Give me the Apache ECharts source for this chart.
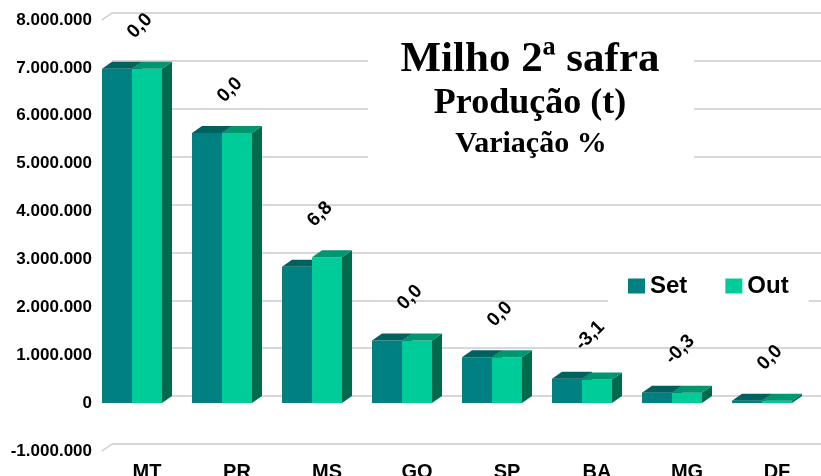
<!DOCTYPE html>
<html>
<head>
<meta charset="utf-8">
<script src="https://cdn.jsdelivr.net/npm/echarts@6/dist/echarts.min.js"></script>
<style>
html,body{margin:0;padding:0;background:#fff;}
#chart{width:821px;height:476px;}
</style>
</head>
<body>
<div id="chart"></div>
<script>
// ---- data ----
const categories = ['MT', 'PR', 'MS', 'GO', 'SP', 'BA', 'MG', 'DF'];
const setValues = [6980000, 5640000, 2850000, 1310000, 960000, 510000, 218000, 50000];
const outValues = [6980000, 5640000, 3045000, 1310000, 960000, 494000, 217000, 50000];
const variation = [0.0, 0.0, 6.8, 0.0, 0.0, -3.1, -0.3, 0.0];
const yMin = -1000000;
const yMax = 8000000;
const yStep = 1000000;
const seriesNames = ['Set', 'Out'];
const titleLines = ['Milho 2ª safra', 'Produção (t)', 'Variação %'];

// ---- style constants ----
const DX = 10, DY = -7;
const colors = {
  Set: { front: '#008080', top: '#00625F', side: '#005454' },
  Out: { front: '#00CC99', top: '#009670', side: '#006A4C' }
};
const FONT = '"Liberation Sans", Arial, sans-serif';
const SERIF = '"Liberation Serif", "Times New Roman", serif';

function fmt(v) {
  const neg = v < 0;
  let s = String(Math.abs(Math.round(v)));
  s = s.replace(/\B(?=(\d{3})+(?!\d))/g, '.');
  return (neg ? '-' : '') + s;
}

function barRenderer(idx, name) {
  return function (params, api) {
    const i = api.value(0), v = api.value(1);
    const c = api.coord([i, v]);
    const base = api.coord([i, 0]);
    const bw = api.size([1, 0])[0];
    const w = bw / 3;
    const x0 = c[0] - bw / 2 + idx * w, x1 = x0 + w;
    const yt = c[1], yb = base[1];
    const col = colors[name];
    return {
      type: 'group',
      children: [
        { type: 'polygon', shape: { points: [[x1, yt], [x1 + DX, yt + DY], [x1 + DX, yb + DY], [x1, yb]] }, style: { fill: col.side } },
        { type: 'rect', shape: { x: x0, y: yt, width: w, height: yb - yt }, style: { fill: col.front } },
        { type: 'polygon', shape: { points: [[x0, yt], [x1, yt], [x1 + DX, yt + DY], [x0 + DX, yt + DY]] }, style: { fill: col.top } }
      ]
    };
  };
}

const labelData = categories.map((c, i) => [i, Math.max(setValues[i], outValues[i]), variation[i]]);
const edgeData = [[0, yMax], [0, yMin]];

const option = {
  animation: false,
  backgroundColor: '#fff',
  graphic: [
    { type: 'rect', z: 10, shape: { x: 368, y: 26, width: 326, height: 146 }, style: { fill: '#fff' } },
    { type: 'text', z: 11, x: 530, y: 60, style: { text: titleLines[0], font: 'bold 43px ' + SERIF, fill: '#000', align: 'center', verticalAlign: 'middle' } },
    { type: 'text', z: 11, x: 530, y: 104, style: { text: titleLines[1], font: 'bold 36px ' + SERIF, fill: '#000', align: 'center', verticalAlign: 'middle' } },
    { type: 'text', z: 11, x: 531, y: 144, style: { text: titleLines[2], font: 'bold 30px ' + SERIF, fill: '#000', align: 'center', verticalAlign: 'middle' } }
  ],
  legend: {
    data: seriesNames,
    left: 608, top: 264,
    padding: [10, 20, 10, 20],
    backgroundColor: '#fff',
    itemWidth: 17, itemHeight: 15, itemGap: 38,
    icon: 'rect',
    textStyle: { fontFamily: FONT, fontWeight: 'bold', fontSize: 24, color: '#000', lineHeight: 24 }
  },
  grid: [
    { left: 102, right: -1, top: 20, bottom: 25, containLabel: false, outerBoundsMode: 'none' },
    { left: 102 + DX, right: -1 - DX - 20, top: 20 + DY, bottom: 25 - DY, containLabel: false, outerBoundsMode: 'none' }
  ],
  xAxis: [
    {
      type: 'category', gridIndex: 0, data: categories,
      axisLine: { show: false }, axisTick: { show: false },
      axisLabel: { fontFamily: FONT, fontWeight: 'bold', fontSize: 20, color: '#000', margin: 11 }
    },
    { type: 'value', gridIndex: 1, min: 0, max: 1, show: false }
  ],
  yAxis: [
    {
      type: 'value', gridIndex: 0, min: yMin, max: yMax, interval: yStep,
      axisLine: { show: false }, axisTick: { show: false }, splitLine: { show: false },
      axisLabel: { formatter: fmt, fontFamily: FONT, fontWeight: 'bold', fontSize: 17, color: '#000', margin: 10 }
    },
    {
      type: 'value', gridIndex: 1, min: yMin, max: yMax, interval: yStep,
      axisLine: { show: false }, axisTick: { show: false }, axisLabel: { show: false },
      splitLine: { show: true, lineStyle: { color: '#CACACA', width: 1.5 } }
    }
  ],
  series: [
    {
      type: 'custom', name: 'edges', xAxisIndex: 0, yAxisIndex: 0, data: edgeData, silent: true,
      renderItem: function (params, api) {
        const c = api.coord([api.value(0), api.value(1)]);
        const bw = api.size([1, 0])[0];
        const x = c[0] - bw / 2;
        return { type: 'line', shape: { x1: x, y1: c[1], x2: x + DX, y2: c[1] + DY }, style: { stroke: '#CACACA', lineWidth: 1.5 } };
      }
    },
    {
      type: 'custom', name: 'Set', xAxisIndex: 0, yAxisIndex: 0,
      itemStyle: { color: colors.Set.front },
      data: setValues.map((v, i) => [i, v]),
      renderItem: barRenderer(0, 'Set')
    },
    {
      type: 'custom', name: 'Out', xAxisIndex: 0, yAxisIndex: 0,
      itemStyle: { color: colors.Out.front },
      data: outValues.map((v, i) => [i, v]),
      renderItem: barRenderer(1, 'Out')
    },
    {
      type: 'custom', name: 'labels', xAxisIndex: 0, yAxisIndex: 0, data: labelData, silent: true,
      renderItem: function (params, api) {
        const i = api.value(0);
        const c = api.coord([i, api.value(1)]);
        const bw = api.size([1, 0])[0];
        const txt = api.value(2).toFixed(1).replace('.', ',');
        return {
          type: 'text', x: c[0] - bw / 6 + 8, y: c[1] - 43, rotation: Math.PI / 4,
          style: { text: txt, font: 'bold 19px ' + FONT, fill: '#000', align: 'center', verticalAlign: 'middle' }
        };
      }
    }
  ]
};

const chart = echarts.init(document.getElementById('chart'), null, { renderer: 'canvas' });
chart.setOption(option);
</script>
</body>
</html>
